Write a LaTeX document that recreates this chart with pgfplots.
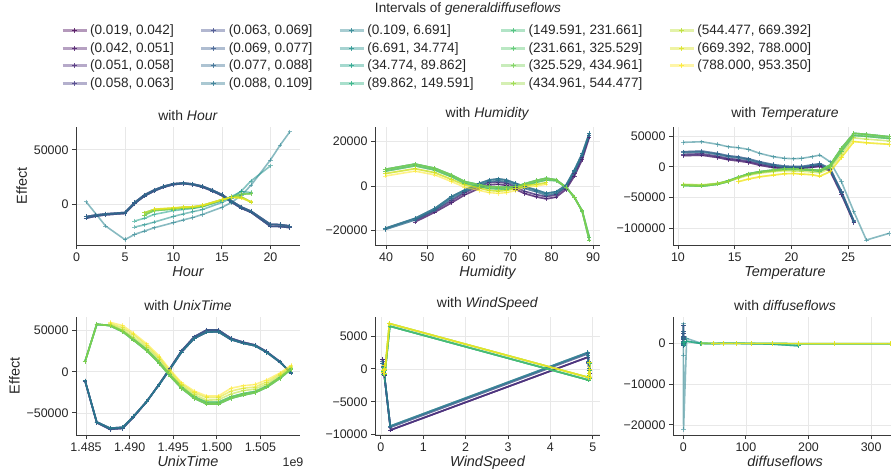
\documentclass[border=0pt]{standalone}
\usepackage{pgfplots}
\pgfplotsset{compat=1.18}
\usepackage{fontspec}
\setmainfont{Liberation Sans}
\definecolor{c1}{HTML}{440154}
\definecolor{c2}{HTML}{481467}
\definecolor{c3}{HTML}{482878}
\definecolor{c4}{HTML}{443983}
\definecolor{c5}{HTML}{3E4A89}
\definecolor{c6}{HTML}{38598C}
\definecolor{c7}{HTML}{31688E}
\definecolor{c8}{HTML}{2B758E}
\definecolor{c9}{HTML}{26828E}
\definecolor{c10}{HTML}{21918C}
\definecolor{c11}{HTML}{1FA088}
\definecolor{c12}{HTML}{28AE80}
\definecolor{c13}{HTML}{3FBC73}
\definecolor{c14}{HTML}{52C569}
\definecolor{c15}{HTML}{75D054}
\definecolor{c16}{HTML}{95D840}
\definecolor{c17}{HTML}{B8DE29}
\definecolor{c18}{HTML}{D8E219}
\definecolor{c19}{HTML}{FDE725}
\definecolor{gridc}{HTML}{E8E8E8}
\definecolor{spine}{HTML}{3A3A3A}
\definecolor{txt}{HTML}{262626}
\pgfplotsset{
  panel/.style={
    scale only axis, width=224bp, height=118bp,
    axis x line*=bottom, axis y line*=left,
    xtick pos=bottom, ytick pos=left,
    axis line style={spine, line width=0.9bp, -},
    grid=major, major grid style={gridc, line width=0.8bp},
    tick align=outside, major tick length=4bp,
    every tick/.style={spine, line width=0.9bp},
    tick label style={font=\fontsize{12.5}{14}\selectfont, text=txt},
    title style={font=\fontsize{14}{16}\selectfont, text=txt, yshift=-3bp},
    xlabel style={font=\fontsize{14.5}{16}\selectfont\itshape, text=txt, yshift=2bp},
    ylabel style={font=\fontsize{14.5}{16}\selectfont, text=txt},
    /pgf/number format/assume math mode=true,
    scaled ticks=false, clip=true,
  },
  sty/.style={color=#1, opacity=0.55, line width=1.6bp, mark=+, mark size=2.2bp, mark options={solid, line width=0.8bp}},
}
% ---------- Hour
\newcommand\HDa[1]{\addplot[sty=#1] coordinates {(1,-12300) (2,-10500) (3,-9300) (5,-8000) (6,1000) (7,7800) (8,12400) (9,16000) (10,18300) (11,19200) (12,18200) (13,16000) (14,12500) (15,8200) (16,2200) (17,-3300) (18,-7000) (20,-19800) (21,-20000) (22,-21000)};}
\newcommand\HDb[1]{\addplot[sty=#1] coordinates {(1,-11000) (2,-9500) (3,-8500) (5,-7200) (6,2000) (7,8800) (8,13300) (9,16800) (10,19000) (11,19800) (12,18800) (13,16800) (14,13300) (15,9200) (16,3300) (17,-2200) (18,-6000) (20,-18000) (21,-18300) (22,-19500)};}
\newcommand\HTa[1]{\addplot[sty=#1] coordinates {(1,2500) (3,-19500) (5,-32000) (6,-27200) (7,-24200) (8,-21200) (10,-16500) (11,-14000) (12,-11800) (13,-9000) (15,-2500) (16,2000) (17,8500) (18,17700) (20,40800) (21,54300) (22,66500)};}
\newcommand\HTb[1]{\addplot[sty=#1] coordinates {(6,-20500) (7,-18500) (8,-16000) (10,-10800) (11,-8500) (12,-6500) (13,-4500) (15,2000) (16,6000) (17,12500) (18,21600) (20,35400)};}
\newcommand\HTc[1]{\addplot[sty=#1] coordinates {(6,-15000) (7,-12500) (8,-9000) (10,-5500) (11,-4500) (12,-3500) (13,-2000) (15,3500) (16,7500) (17,12000) (18,11000)};}
\newcommand\HGa[1]{\addplot[sty=#1] coordinates {(7,-9500) (8,-5500) (10,-4000) (11,-3200) (12,-3000) (13,-1500) (15,4000) (16,7000) (17,9500) (18,10000)};}
\newcommand\HGb[1]{\addplot[sty=#1] coordinates {(7,-7500) (8,-4500) (10,-3500) (11,-2500) (12,-2200) (13,-800) (15,4500) (16,6800) (17,7000) (18,2400)};}
\newcommand\HGc[1]{\addplot[sty=#1] coordinates {(8,-4200) (10,-3000) (11,-2300) (12,-2000) (13,-600) (15,4500) (16,6500) (17,6000) (18,2500)};}
% ---------- Humidity
\newcommand\UPa[1]{\addplot[sty=#1] coordinates {(47.0,-16200) (51.8,-11800) (55.8,-7600) (59.0,-4000) (62.6,-1000) (64.9,500) (67.1,800) (69.1,300) (71.3,-1500) (73.5,-3400) (76.3,-4900) (78.7,-5800) (81.1,-5000) (83.5,-1500) (85.5,4500) (87.4,12000) (89.1,22000)};}
\newcommand\UPb[1]{\addplot[sty=#1] coordinates {(47.0,-15400) (51.8,-11000) (55.8,-6600) (59.0,-3000) (62.6,0) (64.9,1500) (67.1,1800) (69.1,1300) (71.3,-500) (73.5,-2400) (76.3,-3900) (78.7,-4800) (81.1,-4000) (83.5,-500) (85.5,5500) (87.4,13000) (89.1,22800)};}
\newcommand\UBa[1]{\addplot[sty=#1] coordinates {(39.8,-19100) (47.0,-14600) (51.8,-10100) (55.8,-4800) (59.0,-1800) (62.6,1200) (64.9,2700) (67.1,3200) (69.1,2700) (71.3,1200) (73.5,-300) (76.3,-1800) (78.7,-3300) (81.1,-2600) (83.5,450) (85.5,7200) (87.4,14700) (89.1,23800)};}
\newcommand\UBb[1]{\addplot[sty=#1] coordinates {(39.8,-19600) (47.0,-15300) (51.8,-10800) (55.8,-5600) (59.0,-2500) (62.6,500) (64.9,1900) (67.1,2400) (69.1,1900) (71.3,400) (73.5,-1100) (76.3,-2600) (78.7,-4100) (81.1,-3400) (83.5,-300) (85.5,6400) (87.4,13900) (89.1,23000)};}
\newcommand\UGa[1]{\addplot[sty=#1] coordinates {(39.8,7500) (47.0,9900) (51.8,8000) (55.8,5000) (59.0,2000) (62.6,500) (64.9,-300) (67.1,-500) (69.1,-600) (71.3,-300) (73.5,1000) (76.3,2500) (78.7,3500) (81.1,2800) (83.5,-500) (85.5,-5000) (87.4,-11500) (89.1,-24400)};}
\newcommand\UGb[1]{\addplot[sty=#1] coordinates {(39.8,6700) (47.0,9100) (51.8,7200) (55.8,4200) (59.0,1200) (62.6,-300) (64.9,-1100) (67.1,-1300) (69.1,-1400) (71.3,-1100) (73.5,200) (76.3,1700) (78.7,2700) (81.1,2400) (83.5,-700) (85.5,-5200) (87.4,-11200) (89.1,-23000)};}
\newcommand\UYa[1]{\addplot[sty=#1] coordinates {(39.8,5600) (47.0,7800) (51.8,6000) (55.8,3000) (59.0,500) (62.6,-1000) (64.9,-2000) (67.1,-2300) (69.1,-2000) (71.3,-1000) (73.5,200) (76.3,700) (78.7,1500)};}
\newcommand\UYb[1]{\addplot[sty=#1] coordinates {(39.8,4500) (47.0,6700) (51.8,5000) (55.8,2000) (59.0,-500) (62.6,-2000) (64.9,-3000) (67.1,-3300) (69.1,-3000) (71.3,-2000) (73.5,-500) (76.3,0) (78.7,800)};}
% ---------- Temperature
\newcommand\TPa[1]{\addplot[sty=#1] coordinates {(10.45,18000) (12.1,18800) (13.5,15000) (14.4,11500) (15.3,9500) (16.2,7000) (17.2,2500) (18.4,-1500) (19.4,-3000) (20.2,-2500) (20.9,-2500) (21.8,-1000) (22.5,500) (23.4,-7000) (24.4,-45000) (25.5,-91000)};}
\newcommand\TPb[1]{\addplot[sty=#1] coordinates {(10.45,20000) (12.1,21000) (13.5,17000) (14.4,13500) (15.3,11500) (16.2,9000) (17.2,4500) (18.4,500) (19.4,-1500) (20.2,-1000) (20.9,-1000) (21.8,500) (22.5,2000) (23.4,-5000) (24.4,-42000) (25.5,-90000)};}
\newcommand\TDa[1]{\addplot[sty=#1] coordinates {(10.45,24400) (12.1,25500) (13.5,21500) (14.4,18000) (15.3,16000) (16.2,13000) (17.2,8000) (18.4,3500) (19.4,1000) (20.2,300) (20.9,500) (21.8,3000) (22.5,5000) (23.4,-2600) (24.4,-40000) (25.5,-88000)};}
\newcommand\TDb[1]{\addplot[sty=#1] coordinates {(10.45,23000) (12.1,24000) (13.5,20000) (14.4,16500) (15.3,14500) (16.2,11500) (17.2,6500) (18.4,2000) (19.4,-300) (20.2,-1000) (20.9,-800) (21.8,1500) (22.5,3500) (23.4,-4000) (24.4,-42000) (25.5,-89000)};}
\newcommand\TTa[1]{\addplot[sty=#1] coordinates {(10.45,39700) (12.1,40700) (13.5,36500) (14.4,32600) (15.3,31000) (16.2,28300) (17.2,21800) (18.4,16300) (19.4,13700) (20.2,13000) (20.9,13700) (21.8,16300) (22.5,19000) (23.4,8100) (24.4,-24400) (25.5,-73300) (26.6,-119400) (28.6,-108500)};}
\newcommand\TGa[1]{\addplot[sty=#1] coordinates {(10.45,-30500) (12.1,-31800) (13.5,-28500) (14.4,-24400) (15.3,-17500) (16.2,-11500) (17.2,-8100) (18.4,-5400) (19.4,-3500) (20.2,-3500) (20.9,-4000) (21.8,-5000) (22.5,-6000) (23.4,2700) (24.4,30000) (25.5,54400) (26.6,52700) (28.6,48900)};}
\newcommand\TGb[1]{\addplot[sty=#1] coordinates {(10.45,-29500) (12.1,-30500) (13.5,-27500) (14.4,-23000) (15.3,-17000) (16.2,-12500) (17.2,-9000) (18.4,-6500) (19.4,-4500) (20.2,-4500) (20.9,-5000) (21.8,-6000) (22.5,-7500) (23.4,0) (24.4,25000) (25.5,51000) (26.6,49500) (28.6,46000)};}
\newcommand\TYa[1]{\addplot[sty=#1] coordinates {(10.45,-28500) (12.1,-29500) (13.5,-27000) (14.4,-23500) (15.3,-19000) (16.2,-14000) (17.2,-10500) (18.4,-8000) (19.4,-6500) (20.2,-7000) (20.9,-7500) (21.8,-8500) (22.5,-10000) (23.4,-3000) (24.4,20000) (25.5,47000) (26.6,45000) (28.6,42000)};}
\newcommand\TYb[1]{\addplot[sty=#1] coordinates {(15.3,-24500) (16.2,-20000) (17.2,-16500) (18.4,-13500) (19.4,-11500) (20.2,-11000) (20.9,-12000) (21.8,-13000) (22.5,-15500) (23.4,-8000) (24.4,15000) (25.5,41000) (26.6,39000) (28.6,36500)};}
% ---------- UnixTime (x = (t/1e9 - 1.48)*1000)
\newcommand\XDa[1]{\addplot[sty=#1] coordinates {(4.89,-11300) (6.23,-61900) (7.75,-69900) (9.21,-68700) (10.42,-55300) (11.96,-36400) (13.40,-14900) (14.63,4100) (15.97,25500) (17.42,42500) (18.84,50600) (20.17,50600) (21.63,40500) (23.04,35700) (24.38,32400) (25.72,24300) (27.25,12100) (28.50,-1900)};}
\newcommand\XDb[1]{\addplot[sty=#1] coordinates {(4.89,-11000) (6.23,-61000) (7.75,-68500) (9.21,-67500) (10.42,-54500) (11.96,-36000) (13.40,-15500) (14.63,3000) (15.97,24000) (17.42,40500) (18.84,48000) (20.17,48500) (21.63,39000) (23.04,34500) (24.38,31500) (25.72,23500) (27.25,11500) (28.50,-1000)};}
\newcommand\XGa[1]{\addplot[sty=#1] coordinates {(4.89,12100) (6.23,57900) (7.75,55800) (9.21,48500) (10.42,38500) (11.96,25500) (13.40,10200) (14.63,-5200) (15.97,-20200) (17.42,-32300) (18.84,-39200) (20.17,-39200) (21.63,-32300) (23.04,-28300) (24.38,-25500) (25.72,-18900) (27.25,-8000) (28.50,2900)};}
\newcommand\XGb[1]{\addplot[sty=#1] coordinates {(4.89,13000) (6.23,57000) (7.75,56500) (9.21,49500) (10.42,39800) (11.96,27000) (13.40,11800) (14.63,-3500) (15.97,-18500) (17.42,-30500) (18.84,-37000) (20.17,-37000) (21.63,-30500) (23.04,-26500) (24.38,-24000) (25.72,-17500) (27.25,-6500) (28.50,3500)};}
\newcommand\XYa[1]{\addplot[sty=#1] coordinates {(7.75,57500) (9.21,51000) (10.42,42000) (11.96,29500) (13.40,14500) (14.63,-1500) (15.97,-17000) (17.42,-28000) (18.84,-34500) (20.17,-34000) (21.63,-27000) (23.04,-23000) (24.38,-21000) (25.72,-15000) (27.25,-5000) (28.50,5000)};}
\newcommand\XYb[1]{\addplot[sty=#1] coordinates {(7.75,58500) (9.21,53500) (10.42,45000) (11.96,32000) (13.40,17000) (14.63,1000) (15.97,-15000) (17.42,-25500) (18.84,-31500) (20.17,-31500) (21.63,-23500) (23.04,-20000) (24.38,-18500) (25.72,-12500) (27.25,-3000) (28.50,6500)};}
\newcommand\XYc[1]{\addplot[sty=#1] coordinates {(7.75,60000) (9.21,56000) (10.42,47000) (11.96,34000) (13.40,19000) (14.63,2500) (15.97,-13500) (17.42,-23500) (18.84,-29500) (20.17,-29500) (21.63,-20000) (23.04,-17000) (24.38,-15500) (25.72,-10000) (27.25,-1500) (28.50,7800)};}
% ---------- WindSpeed
\newcommand\WPa[1]{\addplot[sty=#1] coordinates {(0.04,1500) (0.05,800) (0.06,-200) (0.07,-700) (0.08,-1000) (0.23,-9300) (4.89,1800) (4.9,1000) (4.91,-300) (4.92,-700)};}
\newcommand\WBa[1]{\addplot[sty=#1] coordinates {(0.04,1200) (0.05,400) (0.06,-300) (0.07,-600) (0.08,-900) (0.22,-8900) (4.88,2300) (4.89,1800) (4.9,800) (4.91,-200)};}
\newcommand\WBb[1]{\addplot[sty=#1] coordinates {(0.04,900) (0.05,200) (0.06,-500) (0.07,-400) (0.08,-800) (0.22,-8700) (4.88,2500) (4.89,2000) (4.9,1200) (4.91,100)};}
\newcommand\WGa[1]{\addplot[sty=#1] coordinates {(0.05,-800) (0.06,-400) (0.07,300) (0.08,-300) (0.09,-900) (0.21,6500) (4.9,-1700) (4.91,-1000) (4.92,800) (4.93,-200) (4.94,-1500)};}
\newcommand\WGb[1]{\addplot[sty=#1] coordinates {(0.05,-600) (0.06,-200) (0.07,500) (0.08,-100) (0.09,-700) (0.2,6900) (4.9,-1300) (4.91,-700) (4.92,1000) (4.93,0) (4.94,-1300)};}
% ---------- diffuseflows
\newcommand\FDa[1]{\addplot[sty=#1] coordinates {(0.03,2500) (0.05,4500) (0.07,1000) (0.09,-400) (0.11,200) (0.13,0) (0.15,1800) (0.2,300)};}
\newcommand\FDb[1]{\addplot[sty=#1] coordinates {(0.03,1200) (0.05,2800) (0.07,-300) (0.09,500) (0.11,-500) (0.13,1500) (0.15,200) (0.2,-100)};}
\newcommand\FTa[1]{\addplot[sty=#1] coordinates {(0.05,500) (0.1,4800) (0.2,-2900) (0.4,-21100) (5.4,1200) (26.7,100)};}
\newcommand\FTb[1]{\addplot[sty=#1] coordinates {(0.1,300) (1.5,-300) (5.4,500) (26.7,0) (48,-100) (64,0) (84,0) (109,-100) (143,-200) (184,-600)};}
\newcommand\FGa[1]{\addplot[sty=#1] coordinates {(29.4,0) (48,0) (64,0) (84,0) (109,0) (143,0) (184,-100) (242,-100) (330,-100)};}
\newcommand\FYa[1]{\addplot[sty=#1] coordinates {(48,0) (64,0) (84,0) (109,0) (143,0) (184,0) (242,0) (330,0)};}
\begin{document}
\begin{tikzpicture}
% legend
\begin{axis}[at={(0bp,0bp)}, anchor=south west, scale only axis, width=891bp, height=476bp, hide axis,
  xmin=0, xmax=1, ymin=0, ymax=1,
  legend style={at={(58/891,1-21/476)}, anchor=north west, draw=none, fill=none,
    font=\fontsize{13.6}{15}\selectfont, text=txt, legend columns=5,
    /tikz/every even column/.append style={column sep=24bp},
    /tikz/column 6/.append style={column sep=48bp},
    row sep=2.2bp},
  legend cell align=left,
  legend image code/.code={\draw[#1, opacity=0.4, line width=3bp] (0bp,0bp) -- (24bp,0bp);
    \draw[#1, opacity=0.8, line width=0.8bp] (12bp,-2.4bp) -- (12bp,2.4bp) (9.6bp,0bp) -- (14.4bp,0bp);}]
\addlegendimage{c1}\addlegendentry{(0.019, 0.042]}
\addlegendimage{c5}\addlegendentry{(0.063, 0.069]}
\addlegendimage{c9}\addlegendentry{(0.109, 6.691]}
\addlegendimage{c13}\addlegendentry{(149.591, 231.661]}
\addlegendimage{c17}\addlegendentry{(544.477, 669.392]}
\addlegendimage{c2}\addlegendentry{(0.042, 0.051]}
\addlegendimage{c6}\addlegendentry{(0.069, 0.077]}
\addlegendimage{c10}\addlegendentry{(6.691, 34.774]}
\addlegendimage{c14}\addlegendentry{(231.661, 325.529]}
\addlegendimage{c18}\addlegendentry{(669.392, 788.000]}
\addlegendimage{c3}\addlegendentry{(0.051, 0.058]}
\addlegendimage{c7}\addlegendentry{(0.077, 0.088]}
\addlegendimage{c11}\addlegendentry{(34.774, 89.862]}
\addlegendimage{c15}\addlegendentry{(325.529, 434.961]}
\addlegendimage{c19}\addlegendentry{(788.000, 953.350]}
\addlegendimage{c4}\addlegendentry{(0.058, 0.063]}
\addlegendimage{c8}\addlegendentry{(0.088, 0.109]}
\addlegendimage{c12}\addlegendentry{(89.862, 149.591]}
\addlegendimage{c16}\addlegendentry{(434.961, 544.477]}
\end{axis}
\node[font=\fontsize{13.6}{15}\selectfont, text=txt] at (468bp,467bp) {Intervals of \textit{generaldiffuseflows}};
% Hour
\begin{axis}[panel, at={(76bp,231bp)}, anchor=south west,
  xmin=-0.05, xmax=23.05, ymin=-36900, ymax=70900,
  xtick={0,5,10,15,20}, ytick={0,50000}, yticklabels={0,50000},
  title={with \textit{Hour}}, xlabel={Hour}, ylabel={Effect}]
\HDa{c1}\HDb{c2}\HDa{c3}\HDb{c4}\HDa{c5}\HDb{c6}\HDa{c7}\HDb{c8}
\HTa{c9}\HTb{c10}\HTc{c11}
\HGa{c12}\HGb{c13}\HGa{c14}\HGb{c15}\HGa{c16}\HGc{c17}\HGb{c18}\HGc{c19}
\end{axis}
% Humidity
\begin{axis}[panel, at={(375bp,231bp)}, anchor=south west, width=225bp,
  xmin=37.34, xmax=91.69, ymin=-26600, ymax=26600,
  xtick={40,50,60,70,80,90}, ytick={-20000,0,20000}, yticklabels={−20000,0,20000},
  title={with \textit{Humidity}}, xlabel={Humidity}]
\UPa{c1}\UPb{c2}\UPa{c3}\UPb{c4}
\UBa{c5}\UBb{c6}\UBa{c7}\UBb{c8}\UBa{c9}
\UGa{c10}\UGb{c11}\UGa{c12}\UGb{c13}\UGa{c14}\UGb{c15}\UGa{c16}
\UYa{c17}\UYa{c18}\UYb{c19}
\end{axis}
% Temperature
\begin{axis}[panel, at={(673bp,231bp)}, anchor=south west,
  xmin=9.56, xmax=29.3, ymin=-127500, ymax=64700,
  xtick={10,15,20,25}, ytick={-100000,-50000,0,50000}, yticklabels={−100000,−50000,0,50000},
  title={with \textit{Temperature}}, xlabel={Temperature}]
\TPa{c1}\TPb{c2}\TPa{c3}\TPb{c4}
\TDa{c5}\TDb{c6}\TDa{c7}\TDb{c8}
\TTa{c9}
\TGa{c10}\TGb{c11}\TGa{c12}\TGb{c13}\TGa{c14}\TGb{c15}\TGa{c16}
\TYa{c17}\TYb{c18}\TYb{c19}
\end{axis}
% UnixTime
\begin{axis}[panel, name=ax4, at={(76bp,41bp)}, anchor=south west,
  xmin=3.85, xmax=29.54, ymin=-76800, ymax=66400,
  xtick={5,10,15,20,25}, xticklabels={1.485,1.490,1.495,1.500,1.505},
  ytick={-50000,0,50000}, yticklabels={−50000,0,50000},
  title={with \textit{UnixTime}}, xlabel={UnixTime}, ylabel={Effect}]
\XDa{c1}\XDb{c2}\XDa{c3}\XDb{c4}\XDa{c5}\XDb{c6}\XDa{c7}\XDb{c8}\XDb{c9}
\XGa{c10}\XGb{c11}\XGa{c12}\XGb{c13}\XGa{c14}\XGb{c15}\XGa{c16}
\XYa{c17}\XYb{c18}\XYc{c19}
\end{axis}
\node[font=\fontsize{12.5}{14}\selectfont, text=txt, xshift=-7bp, yshift=-27bp] at (ax4.south east) {1e9};
% WindSpeed
\begin{axis}[panel, at={(375bp,41bp)}, anchor=south west, width=225bp,
  xmin=-0.14, xmax=5.17, ymin=-10060, ymax=7900,
  xtick={0,1,2,3,4,5}, ytick={-10000,-5000,0,5000}, yticklabels={−10000,−5000,0,5000},
  title={with \textit{WindSpeed}}, xlabel={WindSpeed}]
\WPa{c1}\WPa{c2}\WPa{c3}\WPa{c4}
\WBa{c5}\WBa{c6}\WBb{c7}\WBb{c8}\WBb{c9}
\WGa{c10}\WGa{c11}\WGa{c12}\WGa{c13}\WGa{c14}\WGb{c15}\WGb{c16}\WGb{c17}\WGb{c18}\WGb{c19}
\end{axis}
% diffuseflows
\begin{axis}[panel, at={(673bp,41bp)}, anchor=south west,
  xmin=-16.45, xmax=341.3, ymin=-22470, ymax=6450,
  xtick={0,100,200,300}, ytick={-20000,-10000,0}, yticklabels={−20000,−10000,0},
  title={with \textit{diffuseflows}}, xlabel={diffuseflows}]
\FDa{c1}\FDb{c2}\FDa{c3}\FDb{c4}\FDa{c5}\FDb{c6}\FDa{c7}\FDb{c8}
\FTa{c9}\FTb{c10}\FTb{c11}\FTb{c12}
\FGa{c13}\FGa{c14}\FGa{c15}\FGa{c16}
\FYa{c17}\FYa{c18}\FYa{c19}
\end{axis}
\pgfresetboundingbox
\path[use as bounding box] (0bp,0bp) rectangle (891bp,476bp);
\end{tikzpicture}
\end{document}
